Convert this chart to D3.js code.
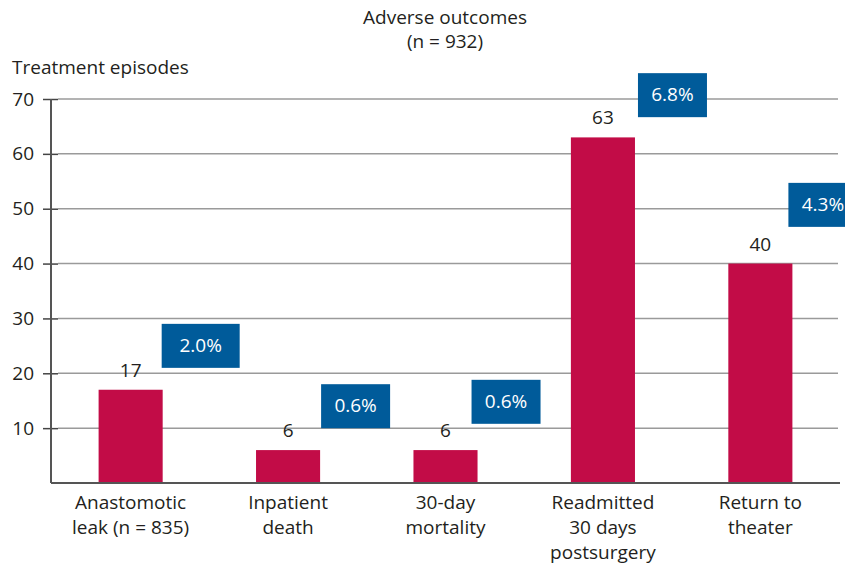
<!DOCTYPE html>
<html>
<head>
<meta charset="utf-8">
<script src="https://cdn.jsdelivr.net/npm/d3@7"></script>
<style>
  body { margin: 0; background: #fff; }
  svg text { font-family: "Open Sans", "Noto Sans", sans-serif; fill: #231f20; }
</style>
</head>
<body>
<svg id="chart" width="845" height="565"></svg>
<script>
// Categories (each entry is the lines of the axis label)
const categories = [
  ['Anastomotic', 'leak (n = 835)'],
  ['Inpatient', 'death'],
  ['30-day', 'mortality'],
  ['Readmitted', '30 days', 'postsurgery'],
  ['Return to', 'theater']
];
// Treatment episodes per outcome
const episodes = [17, 6, 6, 63, 40];
// Percentage of the 932 episodes
const percents = ['2.0%', '0.6%', '0.6%', '6.8%', '4.3%'];
// Y ticks
const yTicks = [10, 20, 30, 40, 50, 60, 70];

const barColor = '#c20c47';
const boxColor = '#005b9a';
const fs = 19;

const svg = d3.select('#chart');
const margin = {left: 51, right: 6, top: 99, bottom: 82};
const W = 845, H = 565;

const x = d3.scaleBand()
  .domain(d3.range(categories.length))
  .range([52, 839])
  .paddingInner(0.593)
  .paddingOuter(0.296);

const y = d3.scaleLinear().domain([0, 70]).range([H - margin.bottom, margin.top]);

// gridlines
svg.append('g')
  .selectAll('line')
  .data(yTicks)
  .join('line')
  .attr('x1', 58)
  .attr('x2', 838)
  .attr('y1', d => y(d))
  .attr('y2', d => y(d))
  .attr('stroke', '#9a9a9a')
  .attr('stroke-width', 1.5);

// y axis
const yAxis = svg.append('g')
  .attr('transform', `translate(${margin.left},0)`)
  .call(d3.axisLeft(y).tickValues(yTicks).tickSize(8).tickPadding(9));
yAxis.select('.domain').remove();
yAxis.selectAll('.tick line').attr('x2', 7).attr('x1', -8).attr('stroke', '#444').attr('stroke-width', 1.5);
yAxis.selectAll('.tick text')
  .attr('font-size', fs)
  .attr('font-family', '"Open Sans", "Noto Sans", sans-serif')
  .attr('fill', '#231f20');

svg.append('line')
  .attr('x1', margin.left).attr('x2', margin.left)
  .attr('y1', y(70)).attr('y2', y(0))
  .attr('stroke', '#555').attr('stroke-width', 2);

// bars
svg.append('g')
  .selectAll('rect')
  .data(episodes)
  .join('rect')
  .attr('x', (d, i) => x(i))
  .attr('y', d => y(d))
  .attr('width', x.bandwidth())
  .attr('height', d => y(0) - y(d))
  .attr('fill', barColor);

// baseline
svg.append('line')
  .attr('x1', margin.left).attr('x2', 840)
  .attr('y1', y(0)).attr('y2', y(0))
  .attr('stroke', '#555').attr('stroke-width', 2);

// value labels
svg.append('g')
  .selectAll('text')
  .data(episodes)
  .join('text')
  .attr('x', (d, i) => x(i) + x.bandwidth() / 2)
  .attr('y', d => y(d) - 13)
  .attr('text-anchor', 'middle')
  .attr('font-size', fs)
  .text(d => d);

// percentage boxes, placed just right of each bar
const boxLift = [8, 8, 8.8, 7.7, 10.7];   // box centre above bar top, in episodes
const boxShift = [-1, 1, -6, 3, -4];      // x offset from the bar's right edge
const boxW = [78, 69, 69, 69, 69];
const boxH = 44;
const boxes = svg.append('g')
  .selectAll('g')
  .data(percents)
  .join('g')
  .attr('transform', (d, i) =>
    `translate(${x(i) + x.bandwidth() + boxShift[i]},${y(episodes[i] + boxLift[i]) - boxH / 2})`);
boxes.append('rect')
  .attr('width', (d, i) => boxW[i])
  .attr('height', boxH)
  .attr('fill', boxColor);
boxes.append('text')
  .attr('x', (d, i) => boxW[i] / 2)
  .attr('y', boxH / 2 + 6)
  .attr('text-anchor', 'middle')
  .attr('font-size', fs)
  .style('fill', '#fff')
  .text(d => d);

// category labels
const cat = svg.append('g')
  .selectAll('text')
  .data(categories)
  .join('text')
  .attr('x', (d, i) => x(i) + x.bandwidth() / 2)
  .attr('y', 509)
  .attr('text-anchor', 'middle')
  .attr('font-size', fs);
cat.selectAll('tspan')
  .data(d => d)
  .join('tspan')
  .attr('x', function() { return this.parentNode.getAttribute('x'); })
  .attr('dy', (d, j) => j === 0 ? 0 : 25)
  .text(d => d);

// titles
svg.append('text')
  .attr('x', 445).attr('y', 24)
  .attr('text-anchor', 'middle').attr('font-size', fs)
  .text('Adverse outcomes');
svg.append('text')
  .attr('x', 445).attr('y', 48)
  .attr('text-anchor', 'middle').attr('font-size', fs)
  .text('(n = 932)');
svg.append('text')
  .attr('x', 12).attr('y', 74)
  .attr('font-size', fs)
  .text('Treatment episodes');
</script>
</body>
</html>
